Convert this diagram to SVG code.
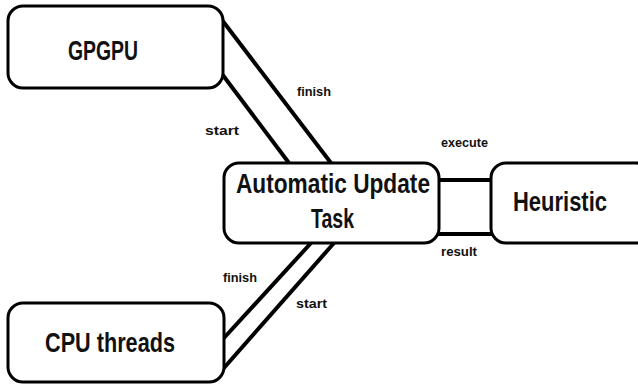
<svg xmlns="http://www.w3.org/2000/svg" width="638" height="384" viewBox="0 0 638 384">
<style>
.box{fill:#fff;stroke:#000;stroke-width:3}
.ln{stroke:#000;stroke-width:4;fill:none}
.big{font-family:"Liberation Sans",Arial,sans-serif;font-weight:bold;font-size:27px;fill:#111}
.sm{font-family:"Liberation Sans",Arial,sans-serif;font-weight:bold;font-size:12px;fill:#111}
</style>
<rect width="638" height="384" fill="#fff"/>
<g id="connectors">
<line class="ln" x1="222" y1="20" x2="331" y2="163"/>
<line class="ln" x1="222" y1="74" x2="289" y2="163"/>
<line class="ln" x1="438" y1="180" x2="492" y2="180"/>
<line class="ln" x1="438" y1="234" x2="492" y2="234"/>
<line class="ln" x1="311" y1="243" x2="223" y2="339"/>
<line class="ln" x1="334" y1="243" x2="223" y2="369"/>
<text class="sm" x="297" y="96" textLength="34" lengthAdjust="spacingAndGlyphs">finish</text>
<text class="sm" x="205" y="135" textLength="34" lengthAdjust="spacingAndGlyphs">start</text>
<text class="sm" x="441" y="147" textLength="47" lengthAdjust="spacingAndGlyphs">execute</text>
<text class="sm" x="441" y="256" textLength="36" lengthAdjust="spacingAndGlyphs">result</text>
<text class="sm" x="223" y="282" textLength="34" lengthAdjust="spacingAndGlyphs">finish</text>
<text class="sm" x="296" y="308" textLength="31" lengthAdjust="spacingAndGlyphs">start</text>
</g>
<g id="gpgpu">
<rect class="box" x="8" y="6" width="215" height="82" rx="15"/>
<text class="big" x="68" y="60" textLength="70" lengthAdjust="spacingAndGlyphs">GPGPU</text>
</g>
<g id="task">
<rect class="box" x="224" y="163" width="215" height="80" rx="15"/>
<text class="big" x="236" y="193" textLength="194" lengthAdjust="spacingAndGlyphs">Automatic Update</text>
<text class="big" x="311" y="228" textLength="43" lengthAdjust="spacingAndGlyphs">Task</text>
</g>
<g id="heuristic">
<rect class="box" x="491" y="163" width="160" height="80" rx="15"/>
<text class="big" x="513" y="211" textLength="94" lengthAdjust="spacingAndGlyphs">Heuristic</text>
</g>
<g id="cpu">
<rect class="box" x="8" y="303" width="216" height="79" rx="15"/>
<text class="big" x="45" y="352" textLength="130" lengthAdjust="spacingAndGlyphs">CPU threads</text>
</g>
</svg>
